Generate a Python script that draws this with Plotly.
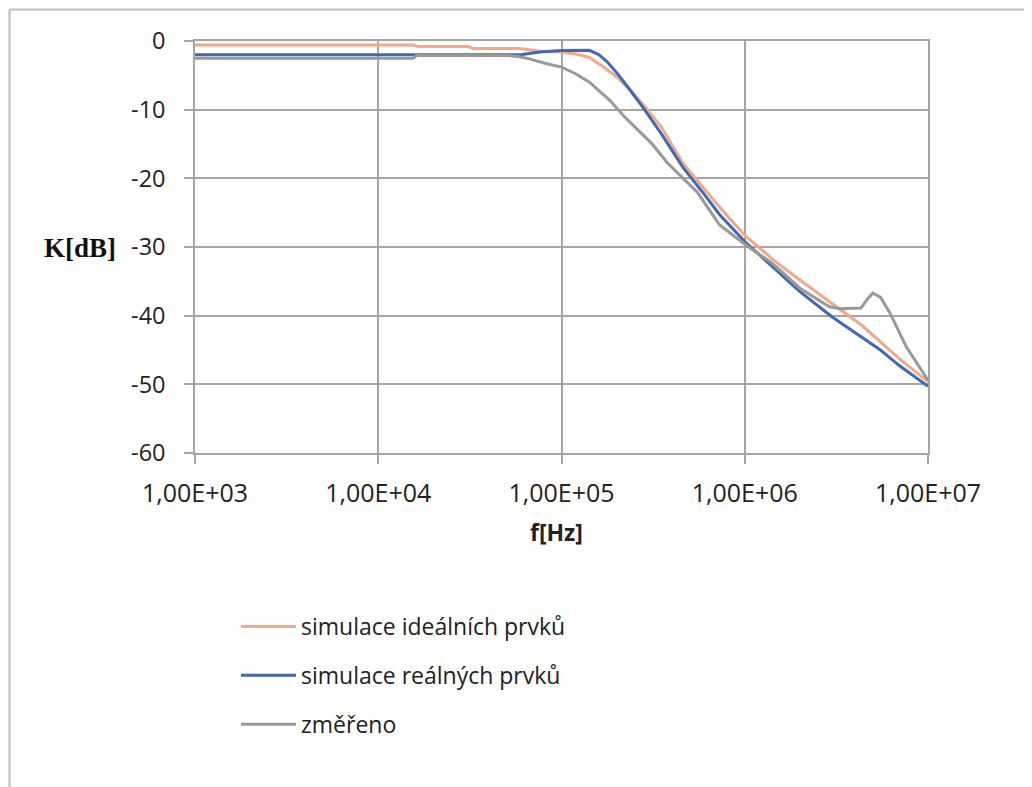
import plotly.graph_objects as go

# ---------------- data ----------------
f_ideal = [1e3, 1.55e4, 1.65e4, 3.1e4, 3.3e4, 5.9e4, 7.6e4, 1e5, 1.2e5, 1.42e5, 1.66e5, 2e5,
           2.4e5, 2.8e5, 3.5e5, 4.6e5, 6e5, 7.3e5, 1e6, 1.5e6, 2e6, 3e6, 4.35e6, 5.5e6, 7e6, 1e7]
k_ideal = [-0.6, -0.6, -0.8, -0.8, -1.1, -1.1, -1.5, -1.6, -1.9, -2.4, -3.6, -5.2,
           -7.3, -9.3, -12.5, -17.8, -21.5, -24.2, -28.3, -32.3, -34.8, -38.3, -41.4, -43.8, -46.3, -49.6]

f_real = [1e3, 6e4, 7.6e4, 1e5, 1.42e5, 1.6e5, 1.77e5, 2e5, 2.3e5, 2.84e5, 3.5e5, 4.6e5,
          6e5, 7.3e5, 1e6, 1.5e6, 2e6, 3e6, 4.35e6, 5.5e6, 7e6, 1e7]
k_real = [-2.0, -2.0, -1.6, -1.4, -1.35, -2.0, -3.0, -4.6, -6.7, -10.0, -13.5, -18.4,
          -22.3, -25.3, -29.2, -33.5, -36.5, -40.2, -43.2, -45.0, -47.3, -50.3]

f_meas = [1e3, 1.55e4, 1.62e4, 5e4, 5.9e4, 6.7e4, 8e4, 1e5, 1.2e5, 1.42e5, 1.83e5, 2.2e5,
          3.1e5, 3.8e5, 5.5e5, 7.3e5, 1e6, 1.4e6, 2e6, 2.9e6, 3.3e6, 4.3e6, 4.7e6, 5.0e6,
          5.5e6, 6.2e6, 7.6e6, 1e7]
k_meas = [-2.5, -2.5, -2.1, -2.1, -2.3, -2.6, -3.2, -3.8, -4.8, -6.0, -8.6, -11.0,
          -14.9, -17.8, -22.0, -26.8, -29.6, -32.3, -36.0, -38.7, -39.0, -38.9, -37.5, -36.7,
          -37.3, -39.6, -44.5, -49.4]

series_names = ["simulace ideálních prvků", "simulace reálných prvků", "změřeno"]
x_tickvals = [1e3, 1e4, 1e5, 1e6, 1e7]
x_ticktext = ["1,00E+03", "1,00E+04", "1,00E+05", "1,00E+06", "1,00E+07"]
y_tickvals = [0, -10, -20, -30, -40, -50, -60]
y_ticktext = ["0", "-10", "-20", "-30", "-40", "-50", "-60"]

# ---------------- layout helpers ----------------
W, H = 1032, 787
OFF = 8  # page body margin
# plot area in screen pixels: x 195..928, y 41..453
SL, SR, ST, SB = 195, 928, 41, 453
L = SL - OFF
T = ST - OFF
R = W - (SR - OFF)
B = H - (SB - OFF)
PW, PH = SR - SL, SB - ST


def px(xs):
    return (xs - SL) / PW


def py(ys):
    return (SB - ys) / PH


colors = ["#F4A888", "#4068B8", "#999999"]
fig = go.Figure()
for i, (fx, ky) in enumerate([(f_ideal, k_ideal), (f_real, k_real), (f_meas, k_meas)]):
    fig.add_trace(go.Scatter(x=fx, y=ky, mode="lines", name=series_names[i],
                             legendgroup=str(i),
                             line=dict(color=colors[i], width=3)))

xtickfont = dict(family="Open Sans", size=25, color="#222222")
ytickfont = dict(family="Open Sans", size=23.5, color="#222222")
fig.update_layout(
    width=W, height=H,
    margin=dict(l=L, r=R, t=T, b=B),
    paper_bgcolor="white", plot_bgcolor="white",
    showlegend=True,
    legend=dict(x=px(236), y=py(605), xanchor="left", yanchor="top",
                font=dict(family="Open Sans", size=23, color="#222222"),
                tracegroupgap=16, itemwidth=55, bgcolor="rgba(0,0,0,0)"),
    xaxis=dict(type="log", range=[3, 7], tickvals=x_tickvals, ticktext=x_ticktext,
               showgrid=True, gridcolor="#a6a6a6", gridwidth=1.5,
               showline=True, linecolor="#a6a6a6", linewidth=1.5, mirror=True,
               ticks="outside", ticklen=9, tickcolor="#a6a6a6", tickwidth=1.5,
               ticklabelstandoff=8, tickfont=xtickfont, zeroline=False),
    yaxis=dict(range=[-60, 0], tickvals=y_tickvals, ticktext=y_ticktext,
               showgrid=True, gridcolor="#a6a6a6", gridwidth=1.5,
               showline=True, linecolor="#a6a6a6", linewidth=1.5, mirror=True,
               ticks="outside", ticklen=9, tickcolor="#a6a6a6", tickwidth=1.5,
               ticklabelstandoff=14, tickfont=ytickfont, zeroline=False),
)

fig.add_annotation(text="K[dB]", xref="paper", yref="paper", x=px(80), y=py(248),
                   showarrow=False, xanchor="center", yanchor="middle",
                   font=dict(family="Liberation Serif", size=27, color="#111111", weight="bold"))
fig.add_annotation(text="f[Hz]", xref="paper", yref="paper", x=px(556), y=py(532),
                   showarrow=False, xanchor="center", yanchor="middle",
                   font=dict(family="Open Sans", size=23, color="#222222", weight="bold"))

# outer chart border (top and left edges visible)
fig.add_shape(type="line", xref="paper", yref="paper", x0=px(9.5), y0=py(9.5), x1=px(1100), y1=py(9.5),
              line=dict(color="#bdbdbd", width=2))
fig.add_shape(type="line", xref="paper", yref="paper", x0=px(9.5), y0=py(9.5), x1=px(9.5), y1=py(900),
              line=dict(color="#bdbdbd", width=2))

fig.write_html("out.html")
